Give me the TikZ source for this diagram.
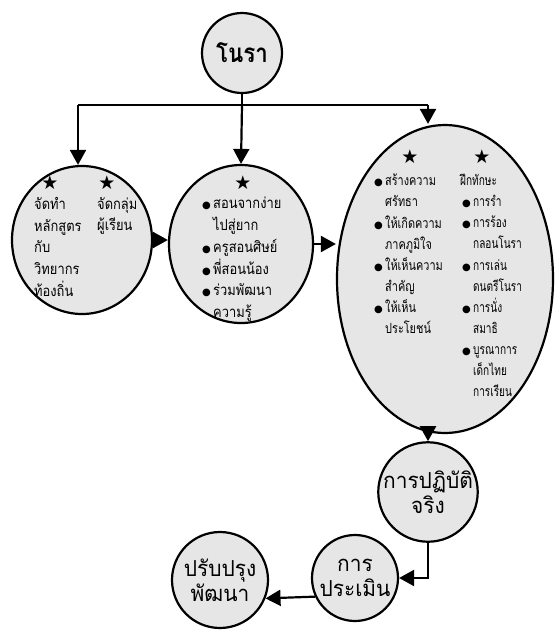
\documentclass[tikz,border=0pt]{standalone}
\usepackage{fontspec}
\newfontfamily\thaifont[Script=Thai, FakeStretch=0.86]{Loma}
\newfontfamily\thaicond[Script=Thai, FakeStretch=0.78]{Loma}
\newfontfamily\thainarrow[Script=Thai, FakeStretch=0.72]{Loma}
\newfontfamily\thaiwide[Script=Thai, FakeStretch=0.95]{Loma}
\newfontfamily\symfont{DejaVu Sans}
\usetikzlibrary{shapes.geometric, arrows.meta, positioning}
\definecolor{bubble}{HTML}{E6E6E6}
\newcommand{\pstar}{{\symfont\fontsize{19}{19}\selectfont ★}}
\newcommand{\pdot}{\makebox[11pt][l]{\symfont\fontsize{10}{10}\selectfont ●}}
\newcommand{\pind}{\hspace*{11pt}}
\tikzset{
  topic/.style={circle, draw, line width=2.2pt, fill=bubble, inner sep=0pt,
                align=center, font=\thaiwide\fontsize{22}{25}\selectfont},
  group/.style={ellipse, draw, line width=2.2pt, fill=bubble, inner sep=0pt},
  body/.style={align=left, anchor=north west, inner sep=0pt,
               font=\thaifont\fontsize{15}{21.75}\selectfont},
  bodyS/.style={body, font=\thaicond\fontsize{14}{21.1}\selectfont},
  starmark/.style={inner sep=0pt},
  arrow/.style={-{Triangle[length=15pt, width=16pt]}, line width=2.2pt},
  link/.style={line width=2.2pt},
}
\begin{document}
\begin{tikzpicture}[x=1pt, y=-1pt]
  \useasboundingbox (0,0) rectangle (557,630);

  %% Top topic
  \node[topic, minimum size=80pt,
        font=\thaifont\bfseries\fontsize{26}{28}\selectfont] (nora) at (242,53) {โนรา};
  \coordinate (barL) at (78,105);
  \coordinate (barR) at (428,105);

  %% Three groups
  \node[group, minimum width=140pt, minimum height=148pt] (plan) at (82,240) {};
  \node[group, minimum width=144pt, minimum height=158pt] (teach) at (241,244) {};
  \node[group, minimum width=216pt, minimum height=308pt] (skill) at (445,279) {};

  %% Left group text
  \node[starmark] (planS1) at (50,183) {\pstar};
  \node[starmark] (planS2) at (107,183) {\pstar};
  \node[body] (planA) at (34,197) {จัดทำ\\หลักสูตร\\กับ\\วิทยากร\\ท้องถิ่น};
  \node[body] (planB) at (97,197) {จัดกลุ่ม\\ผู้เรียน};

  %% Middle group text
  \node[starmark] (teachS) at (243,183) {\pstar};
  \node[body] (teachA) at (202,197)
    {\pdot สอนจากง่าย\\\pind ไปสู่ยาก\\\pdot ครูสอนศิษย์\\\pdot พี่สอนน้อง\\\pdot ร่วมพัฒนา\\\pind ความรู้};

  %% Right group text
  \node[starmark] (skillS1) at (410,157) {\pstar};
  \node[starmark] (skillS2) at (482,157) {\pstar};
  \node[bodyS] (skillA) at (374,174)
    {\pdot สร้างความ\\\pind ศรัทธา\\\pdot ให้เกิดความ\\\pind ภาคภูมิใจ\\\pdot ให้เห็นความ\\\pind สำคัญ\\\pdot ให้เห็น\\\pind ประโยชน์};
  \node[bodyS, font=\thainarrow\fontsize{14}{21.1}\selectfont] (skillB) at (462,174)
    {\hspace*{-2pt}ฝึกทักษะ\\\pdot การรำ\\\pdot การร้อง\\\pind กลอนโนรา\\\pdot การเล่น\\\pind ดนตรีโนรา\\\pdot การนั่ง\\\pind สมาธิ\\\pdot บูรณาการ\\\pind เด็กไทย\\\pind การเรียน};

  %% Lower topics
  \node[topic, minimum size=92pt] (practice) at (428,492) {การปฏิบัติ\\จริง};
  \node[topic, minimum size=86pt] (assess) at (355,578) {การ\\ประเมิน};
  \node[topic, minimum size=96pt] (improve) at (220,580) {ปรับปรุง\\พัฒนา};

  %% Connectors
  \draw[link] (nora) -- (nora |- barL);
  \draw[link] (barL) -- (barR);
  \draw[arrow] (barL) -- (barL |- plan.north);
  \draw[arrow] (nora |- barL) -- (teach.north);
  \draw[arrow] (barR) -- (barR |- skill.north);
  \draw[arrow] (plan.east) -- (plan.east -| teach.west);
  \draw[arrow] (teach.east) -- (teach.east -| skill.west);
  \draw[arrow] (practice |- skill.south) -- (practice.north);
  \draw[arrow] (practice.south) |- (assess.east);
  \draw[arrow] (assess.205) -- (improve.338);
\end{tikzpicture}
\end{document}
